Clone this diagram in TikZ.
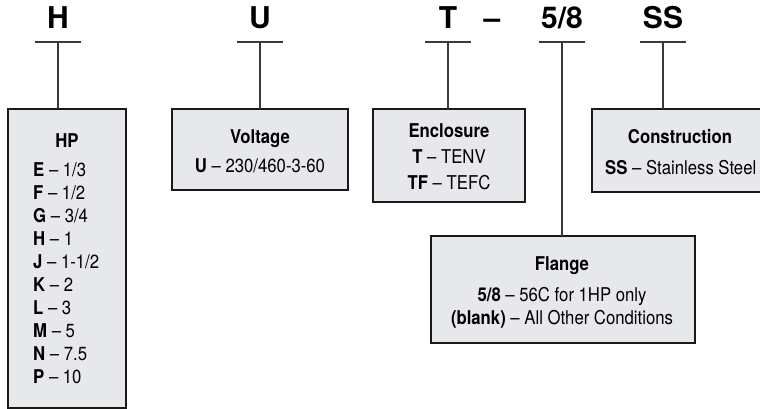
\documentclass[tikz,border=0pt]{standalone}
\usepackage{fontspec}
\setmainfont{TeX Gyre Heros}[Ligatures=TeX]
\newfontfamily\cond{TeX Gyre Heros}[FakeStretch=0.88,Ligatures=TeX]
\definecolor{boxfill}{HTML}{E6E8EC}
\definecolor{linec}{HTML}{3A3A3A}
\tikzset{
  codebox/.style={draw=black!90, line width=1.3pt, fill=boxfill, inner sep=0pt},
  codeletter/.style={font=\fontsize{30}{30}\selectfont\bfseries, inner sep=0pt, anchor=base},
  bar/.style={draw=linec, line width=1.1pt},
  txt/.style={font=\cond\fontsize{19}{23}\selectfont, inner sep=0pt, anchor=base},
  ttl/.style={font=\cond\fontsize{19}{23}\selectfont\bfseries, inner sep=0pt, anchor=base}
}
\newcommand{\hpline}[3]{\node[txt, anchor=base west] (hp#1) at (33,{176.5+#1*23}) {\textbf{#2} – #3};}
\begin{document}
\begin{tikzpicture}[x=1pt,y=-1pt]
\useasboundingbox (0,0) rectangle (760,409);
% letters
\node[codeletter] (lH) at (58,29) {H};
\node[codeletter] (lU) at (260,29) {U};
\node[codeletter] (lT) at (448,29) {T};
\node[codeletter] (ldash) at (492,29) {–};
\node[codeletter] (l58) at (562,29) {5/8};
\node[codeletter] (lSS) at (663,29) {SS};
% bars
\coordinate (bH) at (58,42); \coordinate (bU) at (260,42); \coordinate (bT) at (448,42);
\coordinate (b58) at (562,42); \coordinate (bSS) at (663,42);
\foreach \c in {bH,bU,bT,b58,bSS}{\draw[bar] ([xshift=-23pt]\c) -- ([xshift=23pt]\c);}
% boxes
\path[codebox] (8,109) rectangle (126,408);
\coordinate (boxHPn) at (58,109);
\path[codebox] (172,109) rectangle (348,190);
\coordinate (boxVn) at (260,109);
\path[codebox] (373,109) rectangle (525,202);
\coordinate (boxEn) at (448,109);
\path[codebox] (592,109) rectangle (775,192);
\coordinate (boxCn) at (663,109);
\path[codebox] (431,236) rectangle (695,343);
\coordinate (boxFn) at (562,236);
% connectors
\draw[bar] (bH) -- (boxHPn);
\draw[bar] (bU) -- (boxVn);
\draw[bar] (bT) -- (boxEn);
\draw[bar] (b58) -- (boxFn);
\draw[bar] (bSS) -- (boxCn);
% HP text
\node[ttl] (tHP) at (67,147) {HP};
\hpline{0}{E}{1/3}
\hpline{1}{F}{1/2}
\hpline{2}{G}{3/4}
\hpline{3}{H}{1}
\hpline{4}{J}{1-1/2}
\hpline{5}{K}{2}
\hpline{6}{L}{3}
\hpline{7}{M}{5}
\hpline{8}{N}{7.5}
\hpline{9}{P}{10}
% Voltage
\node[ttl] (tV) at (260,143) {Voltage};
\node[txt] (tV1) at (260,172) {\textbf{U} – 230/460-3-60};
% Enclosure
\node[ttl] (tE) at (449,138) {Enclosure};
\node[txt] (tE1) at (449,164) {\textbf{T} – TENV};
\node[txt] (tE2) at (449,189) {\textbf{TF} – TEFC};
% Construction
\node[ttl] (tC) at (680,143) {Construction};
\node[txt, anchor=base west] (tC1) at (605,175) {\textbf{SS} – Stainless Steel};
% Flange
\node[ttl] (tF) at (562,270) {Flange};
\node[txt] (tF1) at (562,301) {\textbf{5/8} – 56C for 1HP only};
\node[txt] (tF2) at (562,324) {\textbf{(blank)} – All Other Conditions};
\end{tikzpicture}
\end{document}
